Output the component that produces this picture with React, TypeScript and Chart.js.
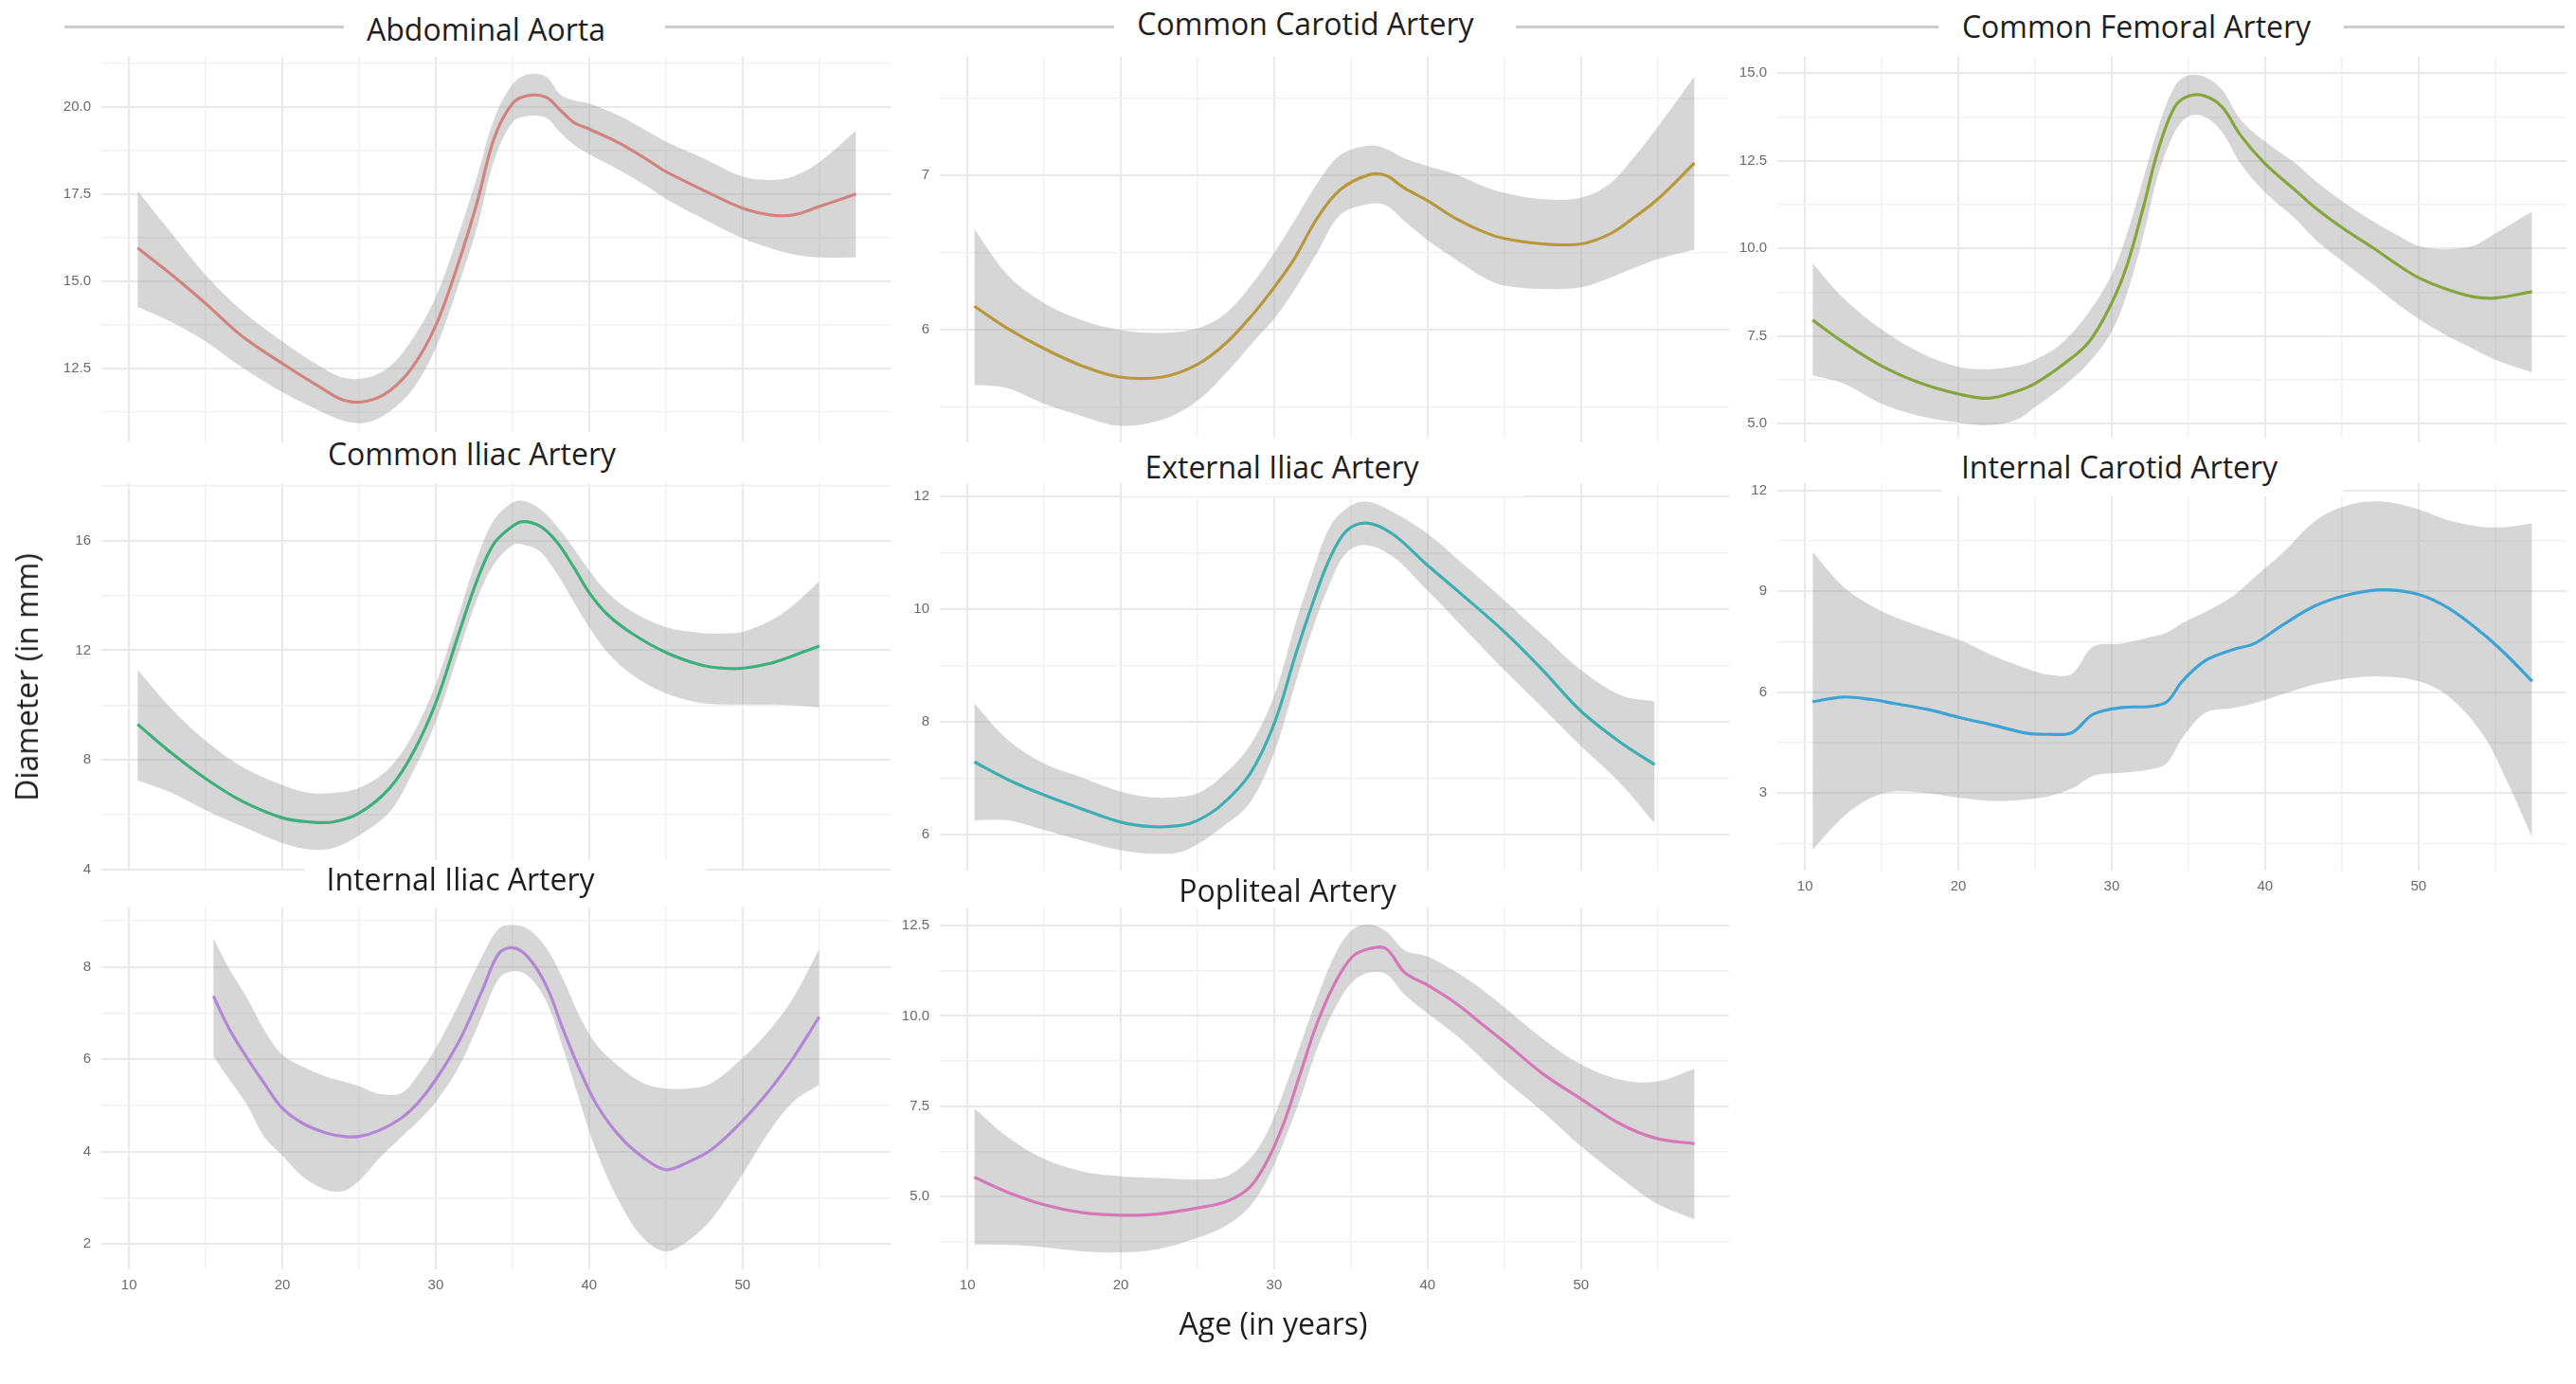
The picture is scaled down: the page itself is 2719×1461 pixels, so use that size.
import React, { useEffect, useRef } from "react";
import { Chart, registerables } from "chart.js";

Chart.register(...registerables);

// ---------------- DATA ----------------
const aortaAge = [10.56, 12.8, 15, 17.3, 20, 22.5, 24, 25.5, 27, 28.5, 30, 31.5, 32.7, 33.8, 35, 36, 37.2, 38.1, 39, 40, 42, 43.9, 45, 47.3, 50, 51.8, 53.3, 55, 57.4];
const aortaFit = [15.95, 15.18, 14.36, 13.45, 12.64, 11.95, 11.59, 11.56, 11.86, 12.55, 13.73, 15.55, 17.27, 19.09, 20.09, 20.32, 20.27, 19.91, 19.55, 19.36, 18.95, 18.45, 18.14, 17.64, 17.09, 16.9, 16.9, 17.14, 17.5];
const aortaUpper = [17.59, 16.36, 15.18, 14.18, 13.27, 12.55, 12.23, 12.23, 12.55, 13.36, 14.55, 16.36, 18.0, 19.64, 20.64, 20.93, 20.86, 20.36, 20.18, 20.09, 19.73, 19.27, 19.0, 18.55, 18.0, 17.9, 18.0, 18.41, 19.32];
const aortaLower = [14.27, 13.82, 13.27, 12.55, 11.82, 11.27, 11.0, 10.95, 11.27, 11.91, 13.09, 14.91, 16.55, 18.45, 19.55, 19.73, 19.68, 19.27, 18.91, 18.64, 18.18, 17.68, 17.36, 16.82, 16.23, 15.95, 15.77, 15.68, 15.68];
const aortaTicks = [12.5, 15, 17.5, 20];
const aortaTickLabels = ["12.5", "15.0", "17.5", "20.0"];

const ccaAge = [10.45, 12.6, 15, 17.5, 19.9, 22.7, 25, 26.9, 28.7, 30, 31.3, 32.8, 34.3, 36.2, 37.3, 38.5, 40, 41.8, 43.7, 45, 47.5, 50, 51.9, 53.4, 55, 57.4];
const ccaFit = [6.153, 6.01, 5.878, 5.765, 5.694, 5.694, 5.776, 5.918, 6.112, 6.276, 6.459, 6.724, 6.908, 7.006, 7.0, 6.918, 6.837, 6.724, 6.633, 6.592, 6.557, 6.557, 6.622, 6.724, 6.847, 7.082];
const ccaUpper = [6.653, 6.357, 6.173, 6.061, 6.0, 5.98, 6.01, 6.112, 6.316, 6.5, 6.704, 6.949, 7.133, 7.194, 7.173, 7.112, 7.061, 7.01, 6.929, 6.888, 6.847, 6.857, 6.949, 7.112, 7.316, 7.643];
const ccaLower = [5.643, 5.622, 5.52, 5.439, 5.378, 5.418, 5.541, 5.724, 5.929, 6.071, 6.255, 6.5, 6.745, 6.816, 6.806, 6.704, 6.582, 6.459, 6.337, 6.286, 6.265, 6.276, 6.337, 6.398, 6.459, 6.52];
const ccaTicks = [6, 7];
const ccaTickLabels = ["6", "7"];

const cfaAge = [10.5, 12.5, 15, 17.6, 20.1, 22, 23.8, 25, 26.7, 28.5, 30, 31, 32.1, 33, 34.1, 35, 36.1, 37.2, 38.4, 40, 41.9, 43.3, 45.1, 47, 48.8, 50, 51.7, 53.5, 55, 57.4];
const cfaFit = [7.95, 7.32, 6.64, 6.14, 5.83, 5.72, 5.92, 6.14, 6.64, 7.32, 8.44, 9.52, 11.23, 12.77, 14.03, 14.34, 14.34, 14.03, 13.22, 12.41, 11.68, 11.14, 10.56, 10.02, 9.48, 9.16, 8.85, 8.62, 8.58, 8.76];
const cfaUpper = [9.57, 8.58, 7.68, 7.0, 6.61, 6.55, 6.64, 6.82, 7.27, 8.17, 9.25, 10.42, 12.05, 13.4, 14.61, 14.93, 14.88, 14.52, 13.67, 13.04, 12.45, 11.91, 11.32, 10.78, 10.33, 10.06, 9.97, 10.06, 10.42, 11.05];
const cfaLower = [6.37, 6.14, 5.56, 5.2, 5.02, 4.95, 5.11, 5.47, 6.01, 6.73, 7.63, 8.71, 10.42, 12.05, 13.31, 13.76, 13.74, 13.31, 12.41, 11.59, 10.87, 10.24, 9.61, 8.98, 8.35, 7.99, 7.54, 7.14, 6.82, 6.46];
const cfaTicks = [5, 7.5, 10, 12.5, 15];
const cfaTickLabels = ["5.0", "7.5", "10.0", "12.5", "15.0"];

const ciaAge = [10.56, 12.8, 15, 17.3, 20, 21.8, 23.3, 25, 27, 28.5, 30, 31.5, 32.7, 33.8, 35, 35.7, 36.8, 37.9, 39, 40, 41.2, 42.8, 45, 47.3, 48.8, 50, 51.8, 53.3, 55];
const ciaFit = [9.3, 8.24, 7.32, 6.52, 5.89, 5.74, 5.74, 6.06, 6.98, 8.24, 10.08, 12.61, 14.56, 15.89, 16.52, 16.69, 16.52, 15.94, 15.02, 14.1, 13.3, 12.61, 11.92, 11.46, 11.34, 11.34, 11.52, 11.8, 12.15];
const ciaUpper = [11.29, 9.85, 8.7, 7.78, 7.09, 6.8, 6.8, 6.98, 7.72, 8.93, 10.77, 13.3, 15.37, 16.75, 17.38, 17.44, 17.15, 16.52, 15.71, 14.91, 14.1, 13.41, 12.84, 12.63, 12.61, 12.67, 13.07, 13.64, 14.51];
const ciaLower = [7.26, 6.8, 6.17, 5.6, 4.97, 4.74, 4.79, 5.25, 6.11, 7.55, 9.39, 11.92, 13.87, 15.14, 15.83, 15.85, 15.6, 14.79, 13.76, 12.84, 11.92, 11.11, 10.43, 10.08, 10.02, 10.02, 10.02, 9.99, 9.91];
const ciaTicks = [4, 8, 12, 16];
const ciaTickLabels = ["4", "8", "12", "16"];

const eiaAge = [10.45, 12.6, 15, 17.5, 20, 22, 23.9, 25, 26.5, 28.4, 30, 31.4, 32.5, 33.6, 34.7, 36, 37.7, 40, 42.2, 45, 47.5, 50, 52.6, 54.8];
const eiaFit = [7.29, 6.98, 6.7, 6.45, 6.22, 6.14, 6.16, 6.25, 6.51, 7.07, 7.97, 9.2, 10.1, 10.89, 11.39, 11.53, 11.34, 10.78, 10.27, 9.6, 8.92, 8.19, 7.63, 7.24];
const eiaUpper = [8.33, 7.69, 7.26, 7.01, 6.76, 6.66, 6.67, 6.73, 7.01, 7.57, 8.47, 9.76, 10.66, 11.45, 11.79, 11.91, 11.73, 11.34, 10.83, 10.16, 9.54, 8.92, 8.47, 8.36];
const eiaLower = [6.25, 6.25, 6.08, 5.89, 5.72, 5.66, 5.69, 5.83, 6.11, 6.56, 7.46, 8.7, 9.65, 10.44, 11.0, 11.14, 10.94, 10.33, 9.71, 8.92, 8.25, 7.57, 6.9, 6.2];
const eiaTicks = [6, 8, 10, 12];
const eiaTickLabels = ["6", "8", "10", "12"];

const icaAge = [10.5, 12.5, 14.3, 15.8, 18, 20.1, 22.3, 24.5, 25.9, 27.4, 28.8, 30.7, 32.5, 33.6, 34.6, 36.1, 37.9, 39.3, 41.2, 43.3, 45.5, 47.7, 50, 52, 54.2, 55.8, 57.4];
const icaFit = [5.72, 5.86, 5.79, 5.67, 5.49, 5.25, 5.02, 4.78, 4.75, 4.8, 5.35, 5.55, 5.58, 5.72, 6.33, 6.94, 7.27, 7.45, 8.02, 8.58, 8.91, 9.05, 8.91, 8.49, 7.74, 7.08, 6.33];
const icaUpper = [10.17, 9.14, 8.58, 8.25, 7.88, 7.55, 7.08, 6.7, 6.52, 6.55, 7.36, 7.45, 7.64, 7.78, 8.06, 8.39, 8.86, 9.42, 10.17, 11.11, 11.58, 11.67, 11.44, 11.11, 10.92, 10.92, 11.02];
const icaLower = [1.32, 2.3, 2.86, 3.05, 3.0, 2.86, 2.77, 2.82, 2.91, 3.14, 3.52, 3.61, 3.71, 3.9, 4.64, 5.39, 5.53, 5.67, 5.95, 6.24, 6.42, 6.47, 6.33, 5.86, 4.74, 3.33, 1.69];
const icaTicks = [3, 6, 9, 12];
const icaTickLabels = ["3", "6", "9", "12"];

const iiaAge = [15.5, 16.55, 17.7, 18.8, 20, 21.4, 22.9, 24, 25, 26.3, 27.8, 28.9, 30, 31.5, 33, 34.1, 35, 36, 37.2, 38.3, 39.4, 40.5, 42, 43.5, 45, 46.5, 48, 50, 51.8, 53.3, 55];
const iiaFit = [7.37, 6.65, 6.03, 5.49, 4.94, 4.6, 4.4, 4.33, 4.33, 4.46, 4.74, 5.08, 5.56, 6.38, 7.47, 8.29, 8.42, 8.22, 7.6, 6.65, 5.76, 5.01, 4.33, 3.88, 3.61, 3.78, 4.05, 4.67, 5.35, 6.03, 6.92];
const iiaUpper = [8.63, 7.95, 7.33, 6.65, 6.1, 5.83, 5.62, 5.52, 5.42, 5.25, 5.28, 5.69, 6.24, 7.19, 8.22, 8.83, 8.91, 8.83, 8.42, 7.74, 6.92, 6.31, 5.83, 5.49, 5.37, 5.37, 5.49, 6.03, 6.65, 7.33, 8.39];
const iiaLower = [6.07, 5.56, 5.01, 4.33, 3.92, 3.44, 3.17, 3.15, 3.37, 3.85, 4.33, 4.67, 5.08, 5.83, 6.92, 7.74, 7.91, 7.81, 7.26, 6.24, 5.08, 3.99, 2.89, 2.14, 1.84, 2.08, 2.55, 3.51, 4.46, 5.08, 5.45];
const iiaTicks = [2, 4, 6, 8];
const iiaTickLabels = ["2", "4", "6", "8"];

const popAge = [10.45, 12.6, 15, 17.5, 20, 22.4, 25, 26.9, 28.4, 29.5, 30.6, 31.7, 32.8, 34, 35.1, 36.2, 37.3, 38.5, 40, 41.9, 43.7, 45, 47.5, 50, 52.6, 54.9, 57.4];
const popFit = [5.53, 5.12, 4.77, 4.55, 4.48, 4.51, 4.68, 4.86, 5.25, 5.95, 7.0, 8.4, 9.8, 10.94, 11.64, 11.86, 11.86, 11.2, 10.85, 10.33, 9.72, 9.28, 8.4, 7.7, 7.0, 6.61, 6.46];
const popUpper = [7.44, 6.65, 6.04, 5.69, 5.56, 5.51, 5.47, 5.56, 6.04, 6.74, 7.88, 9.19, 10.5, 11.73, 12.39, 12.53, 12.34, 11.82, 11.64, 11.2, 10.68, 10.24, 9.37, 8.66, 8.23, 8.18, 8.53];
const popLower = [3.67, 3.66, 3.59, 3.48, 3.45, 3.54, 3.85, 4.2, 4.72, 5.43, 6.48, 7.7, 9.1, 10.24, 10.94, 11.2, 11.16, 10.59, 10.07, 9.45, 8.75, 8.23, 7.35, 6.39, 5.51, 4.81, 4.37];
const popTicks = [5, 7.5, 10, 12.5];
const popTickLabels = ["5.0", "7.5", "10.0", "12.5"];

const ageTicks = [10, 20, 30, 40, 50];
const ageTickLabels = ["10", "20", "30", "40", "50"];

const xAxisTitle = "Age (in years)";
const yAxisTitle = "Diameter (in mm)";

// ---------------- LAYOUT / STYLE ----------------
const W = 2719;
const H = 1461;
const X_MIN = 8.2;
const X_MAX = 59.65;
const COL_L = [107, 992, 1876];
const COL_R = [940, 1825, 2709];
const ROW_T = [60, 510, 958];
const ROW_B = [467, 919, 1340];
const Y_AXIS_W = 60;
const PAD = 4;
const GRID_MAJOR = "#e9e9e9";
const GRID_MINOR = "#f1f1f1";
const BAND = "rgba(153,153,153,0.4)";
const TITLE_FONT = "'Open Sans', 'Noto Sans', sans-serif";
const TICK_FONT = "'Liberation Sans', Arial, sans-serif";

type PanelSpec = {
  title: string;
  age: number[];
  fit: number[];
  lower: number[];
  upper: number[];
  color: string;
  yMin: number;
  yMax: number;
  yTicks: number[];
  yLabels: string[];
  col: number;
  row: number;
  showX: boolean;
};

const panels: PanelSpec[] = [
  { title: "Abdominal Aorta", age: aortaAge, fit: aortaFit, lower: aortaLower, upper: aortaUpper, color: "#F8766D", yMin: 10.38, yMax: 21.43, yTicks: aortaTicks, yLabels: aortaTickLabels, col: 0, row: 0, showX: false },
  { title: "Common Carotid Artery", age: ccaAge, fit: ccaFit, lower: ccaLower, upper: ccaUpper, color: "#CD9600", yMin: 5.27, yMax: 7.77, yTicks: ccaTicks, yLabels: ccaTickLabels, col: 1, row: 0, showX: false },
  { title: "Common Femoral Artery", age: cfaAge, fit: cfaFit, lower: cfaLower, upper: cfaUpper, color: "#7CAE00", yMin: 4.46, yMax: 15.46, yTicks: cfaTicks, yLabels: cfaTickLabels, col: 2, row: 0, showX: false },
  { title: "Common Iliac Artery", age: ciaAge, fit: ciaFit, lower: ciaLower, upper: ciaUpper, color: "#00BE67", yMin: 3.97, yMax: 18.09, yTicks: ciaTicks, yLabels: ciaTickLabels, col: 0, row: 1, showX: false },
  { title: "External Iliac Artery", age: eiaAge, fit: eiaFit, lower: eiaLower, upper: eiaUpper, color: "#00BFC4", yMin: 5.36, yMax: 12.24, yTicks: eiaTicks, yLabels: eiaTickLabels, col: 1, row: 1, showX: false },
  { title: "Internal Carotid Artery", age: icaAge, fit: icaFit, lower: icaLower, upper: icaUpper, color: "#00A9FF", yMin: 0.7, yMax: 12.22, yTicks: icaTicks, yLabels: icaTickLabels, col: 2, row: 1, showX: true },
  { title: "Internal Iliac Artery", age: iiaAge, fit: iiaFit, lower: iiaLower, upper: iiaUpper, color: "#C77CFF", yMin: 1.45, yMax: 9.29, yTicks: iiaTicks, yLabels: iiaTickLabels, col: 0, row: 2, showX: true },
  { title: "Popliteal Artery", age: popAge, fit: popFit, lower: popLower, upper: popUpper, color: "#FF61CC", yMin: 2.98, yMax: 13.0, yTicks: popTicks, yLabels: popTickLabels, col: 1, row: 2, showX: true },
];

// title text centres and white boxes behind them
const titlePos = [
  { cx: 513, cy: 31, box: [363, 6, 339, 48] },
  { cx: 1378, cy: 25, box: [1176, 4, 424, 48] },
  { cx: 2255, cy: 28, box: [2046, 4, 428, 48] },
  { cx: 498, cy: 479, box: [321, 456, 424, 50] },
  { cx: 1353, cy: 493, box: [1185, 462, 424, 62] },
  { cx: 2237, cy: 493, box: [2049, 462, 424, 62] },
  { cx: 486, cy: 928, box: [321, 908, 424, 47] },
  { cx: 1359, cy: 940, box: [1222, 920, 424, 35] },
];

function withMinors(majors: number[], min: number, max: number): number[] {
  const half = (majors[1] - majors[0]) / 2;
  let v = majors[0];
  while (v - half >= min - 1e-9) v -= half;
  const out: number[] = [];
  for (; v <= max + 1e-9; v += half) out.push(Math.round(v * 1e6) / 1e6);
  return out;
}

const isIn = (arr: number[], v: number) => arr.some((m) => Math.abs(m - v) < 1e-6);

function Panel({ p }: { p: PanelSpec }) {
  const ref = useRef<HTMLCanvasElement>(null);
  const plotL = COL_L[p.col];
  const plotR = COL_R[p.col];
  const plotT = ROW_T[p.row];
  const plotB = ROW_B[p.row];
  const xAxisH = p.showX ? 40 : 0;
  const extraB = p.showX ? 0 : 12;
  const cw = plotR - plotL + Y_AXIS_W + PAD;
  const ch = plotB - plotT + PAD + xAxisH + extraB;

  useEffect(() => {
    const n = Math.min(p.age.length, p.fit.length, p.lower.length, p.upper.length);
    const pts = (arr: number[]) => p.age.slice(0, n).map((a, i) => ({ x: a, y: arr[i] }));
    const yAll = withMinors(p.yTicks, p.yMin, p.yMax);
    const xAll = withMinors(ageTicks, X_MIN, X_MAX);
    const zeroPad = (s: any) => {
      s.paddingTop = 0;
      s.paddingBottom = 0;
      s.paddingLeft = 0;
      s.paddingRight = 0;
    };
    const chart = new Chart(ref.current as HTMLCanvasElement, {
      type: "line",
      data: {
        datasets: [
          { data: pts(p.upper), borderWidth: 0, pointRadius: 0, fill: "+1", backgroundColor: BAND, tension: 0.35 },
          { data: pts(p.lower), borderWidth: 0, pointRadius: 0, fill: false, tension: 0.35 },
          { data: pts(p.fit), borderColor: p.color, borderWidth: 3.2, pointRadius: 0, fill: false, tension: 0.35 },
        ],
      } as any,
      options: {
        animation: false,
        responsive: false,
        maintainAspectRatio: false,
        events: [],
        layout: { autoPadding: false, padding: { top: PAD, right: PAD, left: 0, bottom: extraB } },
        plugins: { legend: { display: false }, tooltip: { enabled: false }, title: { display: false } },
        scales: {
          x: {
            type: "linear",
            min: X_MIN,
            max: X_MAX,
            border: { display: false },
            grid: {
              drawTicks: false,
              color: (c: any) => (isIn(ageTicks, c.tick?.value) ? GRID_MAJOR : GRID_MINOR),
              lineWidth: (c: any) => (isIn(ageTicks, c.tick?.value) ? 2 : 1.5),
            },
            afterBuildTicks: (s: any) => {
              s.ticks = xAll.map((v) => ({ value: v }));
            },
            afterFit: (s: any) => {
              s.height = xAxisH;
              zeroPad(s);
            },
            ticks: {
              display: p.showX,
              autoSkip: false,
              maxRotation: 0,
              padding: 8,
              color: "#6a6a6a",
              font: { family: TICK_FONT, size: 15 },
              callback: (v: any) => {
                const i = ageTicks.findIndex((m) => Math.abs(m - Number(v)) < 1e-6);
                return i >= 0 ? ageTickLabels[i] : "";
              },
            },
          },
          y: {
            type: "linear",
            min: p.yMin,
            max: p.yMax,
            border: { display: false },
            grid: {
              drawTicks: false,
              color: (c: any) => (isIn(p.yTicks, c.tick?.value) ? GRID_MAJOR : GRID_MINOR),
              lineWidth: (c: any) => (isIn(p.yTicks, c.tick?.value) ? 2 : 1.5),
            },
            afterBuildTicks: (s: any) => {
              s.ticks = yAll.map((v) => ({ value: v }));
            },
            afterFit: (s: any) => {
              s.width = Y_AXIS_W;
              zeroPad(s);
            },
            ticks: {
              autoSkip: false,
              padding: 11,
              color: "#6a6a6a",
              font: { family: TICK_FONT, size: 15 },
              callback: (v: any) => {
                const i = p.yTicks.findIndex((m) => Math.abs(m - Number(v)) < 1e-6);
                return i >= 0 ? p.yLabels[i] : "";
              },
            },
          },
        },
      } as any,
    });
    return () => chart.destroy();
  }, []);

  return (
    <canvas
      ref={ref}
      width={cw}
      height={ch}
      style={{ position: "absolute", left: plotL - Y_AXIS_W, top: plotT - PAD, width: cw, height: ch }}
    />
  );
}

const textStyle: React.CSSProperties = {
  position: "absolute",
  whiteSpace: "nowrap",
  fontSize: 32,
  lineHeight: 1,
  color: "#1e1e1e",
};

export default function App() {
  return (
    <div
      style={{
        position: "absolute",
        left: 0,
        top: 0,
        width: W,
        height: H,
        background: "#ffffff",
        overflow: "hidden",
        fontFamily: TITLE_FONT,
      }}
    >
      {panels.map((p, i) => (
        <Panel key={i} p={p} />
      ))}
      <div style={{ position: "absolute", left: 68, top: 27, width: 2707 - 68, height: 3, background: "#cbcbcb" }} />
      {titlePos.map((t, i) => (
        <div
          key={"b" + i}
          style={{ position: "absolute", left: t.box[0], top: t.box[1], width: t.box[2], height: t.box[3], background: "#ffffff" }}
        />
      ))}
      {titlePos.map((t, i) => (
        <div key={"t" + i} style={{ ...textStyle, left: t.cx, top: t.cy, transform: "translate(-50%, -50%)" }}>
          {panels[i].title}
        </div>
      ))}
      <div style={{ ...textStyle, left: 1344, top: 1397, transform: "translate(-50%, -50%)" }}>{xAxisTitle}</div>
      <div style={{ ...textStyle, left: 28, top: 715, transform: "translate(-50%, -50%) rotate(-90deg)" }}>{yAxisTitle}</div>
    </div>
  );
}
